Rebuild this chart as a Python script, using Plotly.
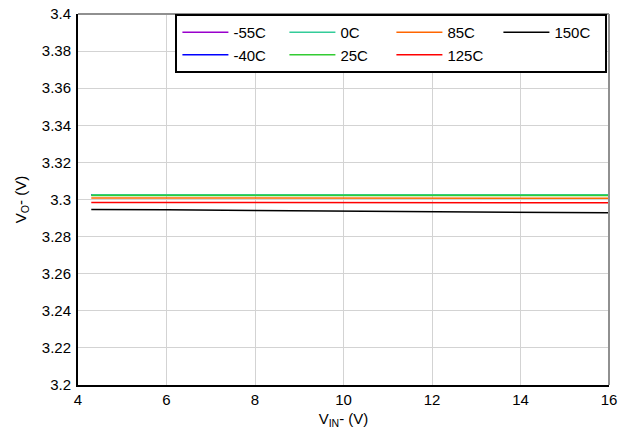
import plotly.graph_objects as go

vin = [4.3, 5, 6, 8, 10, 12, 14, 16]
labels = ["-55C", "-40C", "0C", "25C", "85C", "125C", "150C"]
colors = ["#9900CC", "#0000FF", "#33CC99", "#33CC33", "#FF6600", "#FF0000", "#000000"]
vo_m55 = [3.3026, 3.3026, 3.3026, 3.3026, 3.3026, 3.3026, 3.3026, 3.3026]
vo_m40 = [3.3026, 3.3026, 3.3026, 3.3026, 3.3026, 3.3026, 3.3026, 3.3026]
vo_0 = [3.3025, 3.3025, 3.3025, 3.3025, 3.3025, 3.3025, 3.3025, 3.3025]
vo_25 = [3.3022, 3.3022, 3.3022, 3.3022, 3.3022, 3.3022, 3.3022, 3.3022]
vo_85 = [3.3008, 3.3008, 3.3008, 3.3008, 3.3008, 3.3007, 3.3007, 3.3007]
vo_125 = [3.2984, 3.2984, 3.2984, 3.2984, 3.2983, 3.2983, 3.2983, 3.2982]
vo_150 = [3.2946, 3.2947, 3.2945, 3.2941, 3.2938, 3.2935, 3.2931, 3.2928]
series = [vo_m55, vo_m40, vo_0, vo_25, vo_85, vo_125, vo_150]
# legend order: row 1 = -55C, 0C, 85C, 150C ; row 2 = -40C, 25C, 125C
ranks = [1, 5, 2, 6, 3, 7, 4]

fig = go.Figure()
for lab, col, ys, rk in zip(labels, colors, series, ranks):
    fig.add_trace(go.Scatter(x=vin, y=ys, mode="lines", name=lab,
                             line=dict(color=col, width=1.5), legendrank=rk))

fig.update_layout(
    width=623, height=430,
    margin=dict(l=78, r=14, t=14, b=45),
    paper_bgcolor="white", plot_bgcolor="white",
    font=dict(family="Liberation Sans, Arial, sans-serif", size=15, color="black"),
    xaxis=dict(range=[4, 16], dtick=2, showgrid=True, gridcolor="#D3D3D3", gridwidth=1,
               showline=True, linecolor="black", linewidth=2, ticks="", zeroline=False,
               automargin=False, ticklabeloverflow="allow",
               title=dict(text="V<sub>IN</sub>- (V)", standoff=6, font=dict(size=15))),
    yaxis=dict(range=[3.2, 3.4], dtick=0.02, showgrid=True, gridcolor="#D3D3D3", gridwidth=1,
               showline=True, linecolor="black", linewidth=2, ticks="", zeroline=False,
               tickformat="~g", automargin=False, ticklabelstandoff=2, ticklabeloverflow="allow",
               title=dict(text="V<sub>O</sub>- (V)", standoff=12, font=dict(size=15))),
    legend=dict(orientation="h", x=0.997, xanchor="right", y=1, yanchor="top",
                bordercolor="black", borderwidth=2, bgcolor="white",
                itemwidth=46, entrywidth=46, entrywidthmode="pixels", traceorder="normal",
                font=dict(size=15)),
    showlegend=True,
)
fig.add_shape(type="line", xref="paper", yref="paper", x0=0, x1=1, y0=1, y1=1,
              line=dict(color="#909090", width=2))
fig.add_shape(type="line", xref="paper", yref="paper", x0=1, x1=1, y0=0, y1=1,
              line=dict(color="#909090", width=2))
fig.write_html("out.html", config={"displayModeBar": False},
               post_script="document.body.style.margin='0px';document.body.style.overflow='hidden';")
